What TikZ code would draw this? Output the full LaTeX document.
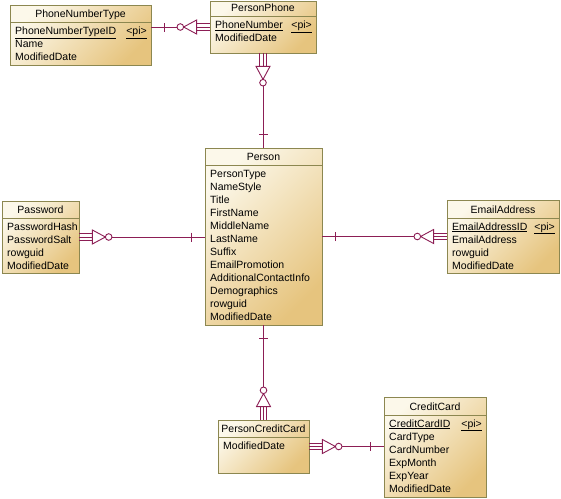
\documentclass[tikz,border=0pt]{standalone}
\usepackage{fontspec}
\setmainfont{Liberation Sans}
\usetikzlibrary{fit,decorations.markings}
\definecolor{erred}{RGB}{140,30,85}
\definecolor{boxedge}{RGB}{140,135,80}
\definecolor{boxlight}{RGB}{252,248,234}
\definecolor{boxdark}{RGB}{230,196,126}
\tikzset{
  entitybox/.style={draw=boxedge, line width=0.8pt, inner sep=0pt,
    top color=boxlight, bottom color=boxdark, shading angle=45},
  entitytitle/.style={anchor=base, inner sep=0pt, font=\fontsize{10.5}{12}\selectfont},
  entityattr/.style={anchor=base west, inner sep=0pt, font=\fontsize{10.5}{12}\selectfont},
  erline/.style={draw=erred, line width=0.9pt},
  oneend/.style={postaction={decorate, decoration={markings,
    mark=at position 13pt with {\draw[erred, line width=0.9pt] (0pt,-4.5pt) -- (0pt,4.5pt);}}}},
  manyend/.style={postaction={decorate, decoration={markings,
    mark=at position 1 with {
      \draw[erred, line width=0.9pt] (-13pt,-3.3pt) -- (0pt,-3.3pt) (-13pt,3.3pt) -- (0pt,3.3pt);
      \draw[erred, line width=0.9pt, fill=white] (-13pt,-7pt) -- (-13pt,7pt) -- (-26pt,0pt) -- cycle;
      \draw[erred, line width=0.9pt, fill=white] (-29.3pt,0pt) circle (3.3pt);}}}}
}
% entity: name, left, top, right, bottom, divider, title, attributes
\newcommand{\erentity}[8]{%
  \node[entitybox, fit={(#2,#3) (#4,#5)}] (#1) {};
  \draw[boxedge, line width=0.8pt] (#2,#6) -- (#4,#6);
  \node[entitytitle] (#1-title) at ({(#2+#4)/2},{#6-5}) {#7};
  \foreach \row [count=\i] in {#8}
    \node[entityattr] (#1-\i) at ({#2+5},{#6-1+13*\i}) {\row};
}

\begin{document}
\begin{tikzpicture}[x=1pt,y=-1pt]
  \useasboundingbox (0,0) rectangle (561,498);

  \erentity{pnt}{10}{5}{151}{65}{22.5}{PhoneNumberType}{\underline{PhoneNumberTypeID},Name,ModifiedDate}
  \node[entityattr, anchor=base east] (pnt-pi) at (147,34.5) {\underline{<pi>}};

  \erentity{pphone}{210}{1}{316}{53}{16.5}{PersonPhone}{\underline{PhoneNumber},ModifiedDate}
  \node[entityattr, anchor=base east] (pphone-pi) at (312,28.5) {\underline{<pi>}};

  \erentity{passwd}{2}{201}{79}{273}{218}{Password}{PasswordHash,PasswordSalt,rowguid,ModifiedDate}

  \erentity{person}{205}{148}{322}{325}{165}{Person}{PersonType,NameStyle,Title,FirstName,MiddleName,LastName,Suffix,EmailPromotion,AdditionalContactInfo,Demographics,rowguid,ModifiedDate}

  \erentity{email}{447}{200}{559}{273}{218}{EmailAddress}{\underline{EmailAddressID},EmailAddress,rowguid,ModifiedDate}
  \node[entityattr, anchor=base east] (email-pi) at (555,230) {\underline{<pi>}};

  \erentity{pcard}{218}{420}{309}{473}{437}{PersonCreditCard}{ModifiedDate}

  \erentity{ccard}{384}{397}{486}{497}{415}{CreditCard}{\underline{CreditCardID},CardType,CardNumber,ExpMonth,ExpYear,ModifiedDate}
  \node[entityattr, anchor=base east] (ccard-pi) at (482,427) {\underline{<pi>}};

  % relations (one end first)
  \draw[erline, oneend, manyend] (pnt.east |- pphone.west) -- (pphone.west);
  \draw[erline, oneend, manyend] (person.north -| pphone.south) -- (pphone.south);
  \draw[erline, oneend, manyend] (person.west |- passwd.east) -- (passwd.east);
  \draw[erline, oneend, manyend] (person.east |- email.west) -- (email.west);
  \draw[erline, oneend, manyend] (person.south -| pcard.north) -- (pcard.north);
  \draw[erline, oneend, manyend] (ccard.west |- pcard.east) -- (pcard.east);
\end{tikzpicture}
\end{document}
